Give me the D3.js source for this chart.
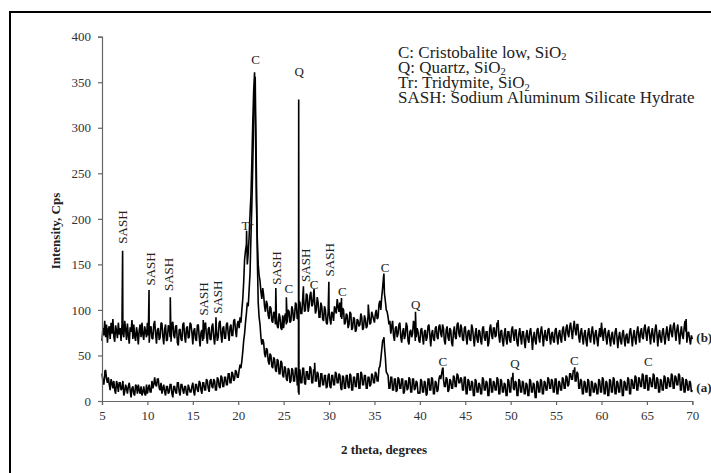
<!DOCTYPE html>
<html><head><meta charset="utf-8">
<script src="https://cdn.jsdelivr.net/npm/d3@7"></script>
<style>body{margin:0;background:#fff}svg{display:block}</style>
</head><body>
<svg id="chart" width="711" height="473"></svg>
<script>
// 2-theta sampling grid of the scans
const angleStart = 5, angleStep = 0.1;

// Scan (b), intensity (Cps) every 0.1 deg from 5 to 70
const intensityB = [
 66,80,72,88,70,84,64,79,82,68, 86,74,90,71,65,83,77,69,86,73, 80,66,84,75,70,88,79,67,85,72, 63,81,76,89,68,84,71,66,81,74, 62,78,84,70,86,73,67,82,76,70,
 86,72,64,80,82,69,68,84,88,74, 63,78,80,67,70,86,85,71,62,79, 84,66,67,83,81,70,65,85,87,72, 69,82,83,64,61,78,79,68,66,84, 86,71,64,80,82,69,70,86,84,75,
 62,77,80,68,66,83,84,71,60,75, 78,66,68,84,86,72,63,79,81,68, 67,82,85,70,62,76,79,66,70,86, 88,73,64,80,82,69,69,84,86,74, 66,81,84,72,72,88,90,78,70,84,
 88,80,92,86,100,112,130,155,165,172, 150,162,180,205,225,262,305,340,361,300, 220,178,150,138,132,120,112,124,116,104, 98,110,106,94,90,104,102,88,86,98, 96,84,94,82,80,96,92,80,78,94,
 80,92,96,84,86,100,98,86,88,104, 100,88,92,108,106,90,92,110,108,96, 96,112,114,98,100,118,116,98,104,116, 120,104,106,118,112,96,100,114,108,92, 92,108,104,90,88,104,100,86,84,98,
 100,90,84,98,96,88,104,100,96,112, 104,98,108,92,90,102,100,84,86,96, 94,80,84,98,96,78,80,92,90,76, 78,90,88,82,84,96,92,78,80,94, 90,80,82,94,96,84,86,98,94,90,
 86,96,100,90,92,106,110,100,114,124, 136,118,110,100,98,92,84,88,74,82, 88,72,66,80,82,70,74,84,86,70, 64,76,80,68,72,86,82,66,62,76, 78,70,74,88,84,66,70,80,76,66,
 64,78,80,70,62,76,78,66,70,82, 84,72,60,74,78,68,66,80,82,70, 68,82,84,74,70,84,80,66,62,78, 82,70,66,80,78,64,60,76,82,70, 68,84,86,74,70,84,80,68,66,80,
 82,70,62,76,78,68,66,84,80,70, 60,74,80,68,64,78,76,66,62,80, 82,70,66,76,76,60,64,80,84,72, 68,80,80,70,72,86,82,72,64,76, 78,66,60,74,80,68,62,76,76,66,
 64,78,82,72,66,78,78,64,60,74, 80,70,62,76,76,66,58,72,78,68, 64,76,80,70,56,70,76,66,62,78, 80,70,64,76,82,72,60,72,78,68, 66,78,80,70,62,74,76,66,64,78,
 80,70,62,74,78,68,64,78,82,72, 66,80,84,74,70,82,86,76,68,80, 88,78,72,84,84,70,64,76,80,70, 62,74,78,66,60,74,80,70,64,76, 82,72,62,74,78,68,60,72,80,70,
 86,74,66,78,80,70,62,74,78,68, 60,72,76,66,62,76,80,70,58,70, 76,66,62,74,78,68,60,72,74,64, 64,76,80,70,60,72,78,68,62,76, 82,72,64,76,80,70,68,80,84,74,
 66,78,82,72,62,74,80,70,64,78, 84,74,60,72,78,68,64,76,80,70, 62,74,82,72,66,78,84,74,70,82, 86,76,66,78,84,74,62,74,82,72, 68,80,88,76,64,74,76,68,62,72,
 68
];
// Scan (a), intensity (Cps) every 0.1 deg from 5 to 70
const intensityA = [
 30,22,18,28,34,24,20,26,18,12, 24,20,14,22,12,8,22,18,10,20, 20,12,14,22,6,10,18,14,8,16, 20,12,4,14,16,8,6,18,16,8, 18,12,8,16,6,10,16,8,6,18,
 8,14,18,10,10,22,14,18,26,18, 16,24,24,14,12,20,8,14,18,10, 6,16,16,8,10,18,18,8,4,16, 16,10,8,20,20,10,6,18,18,12, 8,16,16,8,6,18,14,10,10,16,
 20,10,6,18,18,12,10,22,20,12, 8,20,20,12,12,24,22,14,10,22, 24,16,14,24,22,12,12,26,24,16, 14,28,26,16,16,26,26,18,18,30, 30,20,20,32,30,22,24,34,32,26,
 26,34,40,36,44,54,66,74,86,96, 108,104,122,140,180,215,258,310,340,330, 250,160,108,92,84,70,62,68,64,52, 48,58,56,44,40,52,50,38,36,48, 46,34,32,46,44,30,30,44,42,28,
 26,38,36,24,22,36,34,20,22,36, 34,22,22,36,36,18,18,34,34,20, 20,36,36,20,18,32,32,24,24,38, 36,20,20,34,34,22,22,32,30,16, 16,30,30,18,18,28,28,14,16,28,
 30,16,14,28,28,18,18,32,30,20, 20,30,28,14,12,28,26,14,14,28, 28,16,14,30,28,12,12,26,26,16, 16,30,30,14,14,32,30,18,18,28, 28,14,14,26,26,16,18,30,28,20,
 20,32,30,22,22,36,38,46,56,66, 68,60,48,32,30,28,14,14,26,26, 12,12,24,24,10,12,26,24,14,14, 24,24,8,10,22,22,12,14,26,24, 10,10,24,24,12,14,22,20,8,10,
 8,24,22,10,10,22,20,6,8,24, 24,12,12,26,24,8,8,22,20,10, 12,24,28,24,30,36,24,16,16,26, 24,10,12,24,22,14,14,28,26,16, 16,30,28,20,20,26,24,12,12,26,
 26,8,8,24,22,12,12,22,20,6, 6,24,22,10,10,20,18,8,8,26, 24,12,12,22,20,6,6,24,24,10, 10,22,20,12,12,26,24,8,8,24, 22,10,10,20,18,6,6,24,22,10,
 10,26,24,14,12,22,20,6,6,24, 22,10,10,22,20,8,8,20,18,6, 6,24,22,10,10,20,18,4,4,22, 20,10,10,24,22,8,8,22,20,12, 12,26,24,14,14,24,22,10,10,24,
 24,8,8,22,20,12,12,26,24,14, 14,28,26,16,18,30,30,24,24,34, 32,22,22,32,30,14,14,24,22,8, 8,22,20,10,10,24,22,6,6,22, 20,10,10,20,18,8,8,24,22,10,
 10,26,24,8,8,22,20,6,6,24, 22,10,10,26,24,8,8,22,20,10, 10,24,22,6,6,22,20,12,12,26, 24,8,8,24,22,14,14,28,26,12, 12,26,24,16,16,30,28,14,14,28,
 28,12,12,26,24,16,16,30,28,14, 14,26,24,10,10,24,22,12,12,28, 26,14,14,26,24,16,16,30,28,14, 14,28,26,18,18,30,28,12,12,26, 24,10,10,24,22,12,12,22,20,10,
 12
];
// Sharp reflections between grid points: [2theta, intensity]
const peaksB = [[7.27,165],[10.18,122],[12.52,114],[16.15,89],[17.55,92],[20.92,187],
 [24.14,124],[25.3,114],[27.18,126],[28.35,123],[29.98,131],[31.37,113],
 [34.32,106],[36.04,140],[39.52,98],[48.62,89],[69.32,90]];
const peaksA = [[5.32,33],[21.87,356],[26.63,9],[26.66,331],[26.69,7],[28.42,42],
 [36.05,70],[42.55,36],[50.25,31],[57.05,37]];

const xTicks = [5,10,15,20,25,30,35,40,45,50,55,60,65,70];
const yTicks = [0,50,100,150,200,250,300,350,400];

const legendMain = ["C: Cristobalite low, SiO","Q: Quartz, SiO","Tr: Tridymite, SiO","SASH: Sodium Aluminum Silicate Hydrate"];
const legendSub = ["2","2","2",""];

// Phase labels: text, 2theta, intensity level, vertical?
const labelText  = ["C","Q","Tr","SASH","SASH","SASH","SASH","SASH","SASH","C","SASH","C","SASH","C","C","Q","C","Q","C","C"];
const labelAngle = [21.92,26.72,21.0,7.24,10.29,12.3,16.15,17.7,24.16,25.56,27.46,28.34,30.03,31.46,36.16,39.54,42.52,50.48,57.0,65.15];
const labelLevel = [375,362,193,191,145,139,112,114,146,123,149,128,155,120,147,106,43,41,44,43];
const labelVert  = [0,0,0,1,1,1,1,1,1,0,1,0,1,0,0,0,0,0,0,0];

const seriesNames = ["(b)","(a)"];
const seriesNameLevel = [70,15];

const svg = d3.select("#chart");
const x = d3.scaleLinear().domain([5,70]).range([102,692.3]);
const y = d3.scaleLinear().domain([0,400]).range([401,36.7]);

// frame (cropped at right/bottom)
svg.append("rect").attr("x",10).attr("y",12).attr("width",720).attr("height",480)
  .attr("fill","none").attr("stroke","#000").attr("stroke-width",2);

function build(vals, peaks){
  const pts = vals.map((v,i)=>[angleStart+i*angleStep, v]).concat(peaks);
  pts.sort((a,b)=>a[0]-b[0]);
  return pts;
}
const line = d3.line().x(d=>x(d[0])).y(d=>y(d[1]));
[build(intensityB,peaksB), build(intensityA,peaksA)].forEach(pts=>{
  svg.append("path").datum(pts).attr("d",line).attr("fill","none")
    .attr("stroke","#000").attr("stroke-width",1.6).attr("stroke-linejoin","miter").attr("stroke-miterlimit",2);
});

const font = "'Liberation Serif','Times New Roman',serif";
const xAxis = svg.append("g").attr("transform","translate(0,401)")
  .call(d3.axisBottom(x).tickValues(xTicks).tickSize(4).tickPadding(6).tickFormat(d3.format("d")));
const yAxis = svg.append("g").attr("transform","translate(102,0)")
  .call(d3.axisLeft(y).tickValues(yTicks).tickSize(4).tickPadding(7).tickFormat(d3.format("d")));
[xAxis,yAxis].forEach(g=>{
  g.attr("font-family",font).attr("font-size",13);
  g.selectAll("path,line").attr("stroke","#666").attr("stroke-width",1.2);
  g.selectAll("text").attr("font-family",font).attr("font-size",13).attr("fill","#333");
});

svg.append("text").attr("x",384).attr("y",454).attr("text-anchor","middle")
  .attr("font-family",font).attr("font-weight","bold").attr("font-size",13).attr("fill","#222")
  .text("2 theta, degrees");
svg.append("text").attr("transform","translate(55,231) rotate(-90)").attr("text-anchor","middle")
  .attr("dominant-baseline","central")
  .attr("font-family",font).attr("font-weight","bold").attr("font-size",13).attr("fill","#222")
  .text("Intensity, Cps");

// legend
legendMain.forEach((t,i)=>{
  const tx = svg.append("text").attr("x",398).attr("y",57.5+i*15.3)
    .attr("font-family",font).attr("font-size",17).attr("fill","#222");
  tx.append("tspan").text(t);
  if(legendSub[i]) tx.append("tspan").attr("font-size",10.5).attr("dy",2.5).text(legendSub[i]);
});

// phase labels
labelText.forEach((t,i)=>{
  const px = x(labelAngle[i]), py = y(labelLevel[i]);
  svg.append("text")
    .attr("transform", labelVert[i] ? `translate(${px},${py}) rotate(-90)` : `translate(${px},${py})`)
    .attr("text-anchor","middle").attr("dominant-baseline","central")
    .attr("font-family",font).attr("font-size",13).attr("fill","#222").text(t);
});

seriesNames.forEach((t,i)=>{
  svg.append("text").attr("x",x(70)+4).attr("y",y(seriesNameLevel[i]))
    .attr("dominant-baseline","central")
    .attr("font-family",font).attr("font-weight","bold").attr("font-size",13).attr("fill","#222").text(t);
});
</script>
</body></html>
